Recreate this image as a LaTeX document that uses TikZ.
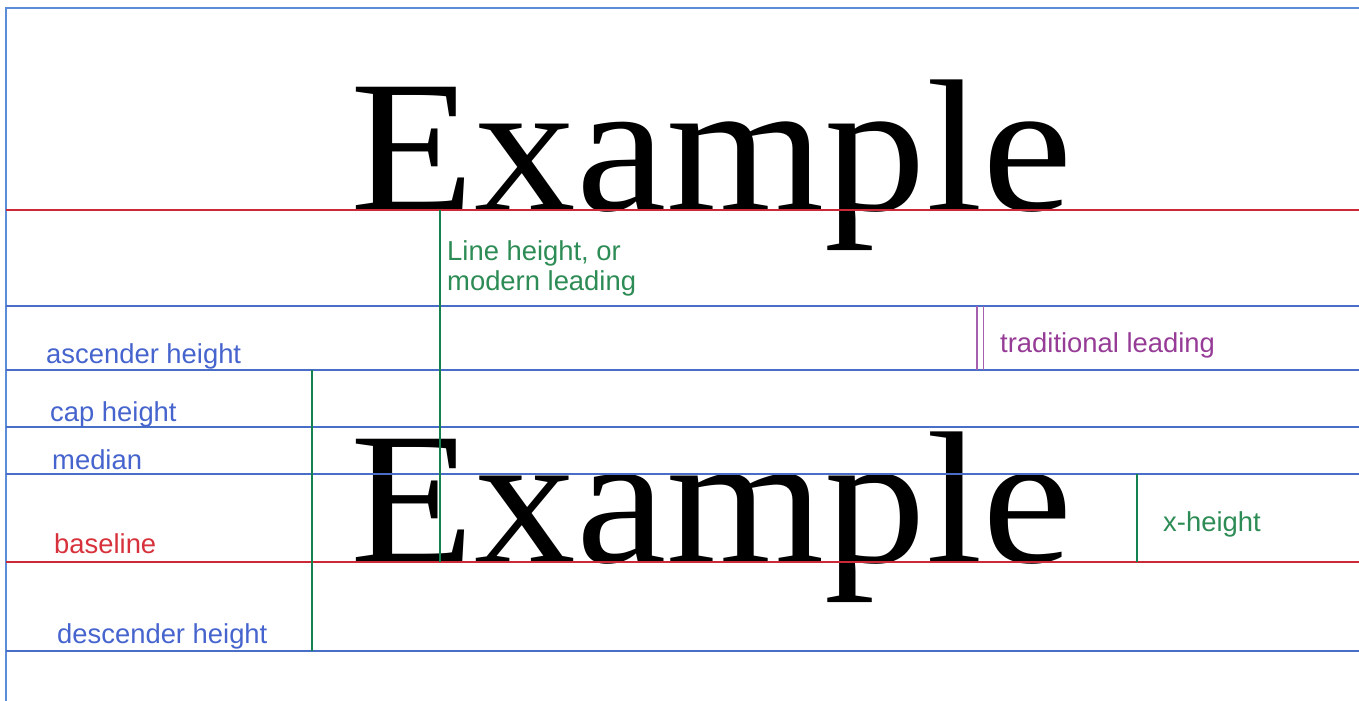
\documentclass[tikz,border=0pt]{standalone}
\usepackage{fontspec}
\usepackage{graphicx}
\newfontfamily\labelfont{Liberation Sans}
\newfontfamily\samplefont{Liberation Serif}
\definecolor{lineblue}{RGB}{72,110,200}
\definecolor{textblue}{RGB}{70,100,205}
\definecolor{linered}{RGB}{205,40,55}
\definecolor{textred}{RGB}{215,50,60}
\definecolor{linegreen}{RGB}{20,130,80}
\definecolor{textgreen}{RGB}{45,140,85}
\definecolor{linepurple}{RGB}{165,95,175}
\definecolor{textpurple}{RGB}{150,60,150}
\definecolor{framecol}{RGB}{90,140,215}
\tikzset{
  guideblue/.style={draw=lineblue, line width=2bp},
  guidered/.style={draw=linered, line width=2bp},
  guidegreen/.style={draw=linegreen, line width=1.4bp},
  guidepurple/.style={draw=linepurple, line width=1.1bp},
  lbl/.style={inner sep=0pt, anchor=base west, font=\labelfont\fontsize{27.5}{30}\selectfont, align=left},
  sample/.style={inner sep=0pt, anchor=base west, font=\samplefont\fontsize{189}{189}\selectfont}
}
\begin{document}
\begin{tikzpicture}[x=1bp,y=-1bp]
\useasboundingbox (0,0) rectangle (1359,700);
\clip (0,0) rectangle (1359,700);
% frame
\draw[draw=framecol, line width=2bp] (6,8) rectangle (1380,720);
% sample words
\node[sample] (ex1) at (350,210) {\scalebox{1.08}[1]{Example}};
\node[sample] (ex2) at (350,562) {\scalebox{1.08}[1]{Example}};
% horizontal guides
\draw[guidered]  (6,210) -- (1359,210);
\draw[guideblue] (6,306) -- (1359,306);
\draw[guideblue] (6,370) -- (1359,370);
\draw[guideblue] (6,427) -- (1359,427);
\draw[guideblue] (6,474) -- (1359,474);
\draw[guidered]  (6,562) -- (1359,562);
\draw[guideblue] (6,651) -- (1359,651);
% vertical measures
\draw[guidegreen] (440,210) -- (440,562);
\draw[guidegreen] (312,370) -- (312,651);
\draw[guidegreen] (1137,474) -- (1137,562);
\draw[guidepurple] (977,306) -- (977,370);
\draw[guidepurple] (983.5,306) -- (983.5,370);
% labels
\node[lbl, text=textgreen] (lh) at (447,290) {Line height, or\\modern leading};
\node[lbl, text=textpurple] (tl) at (1000,352) {traditional leading};
\node[lbl, text=textblue] (asc) at (46,363) {ascender height};
\node[lbl, text=textblue] (cap) at (50,421) {cap height};
\node[lbl, text=textblue] (med) at (52,469) {median};
\node[lbl, text=textred] (base) at (54,553) {baseline};
\node[lbl, text=textblue] (desc) at (57,643) {descender height};
\node[lbl, text=textgreen] (xh) at (1163,531) {x-height};
\end{tikzpicture}
\end{document}
